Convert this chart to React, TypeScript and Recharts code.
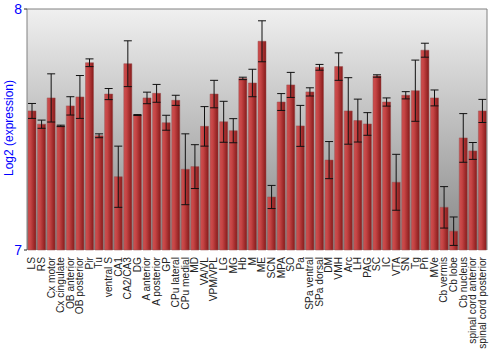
import { BarChart, Bar, XAxis, YAxis, ErrorBar, CartesianGrid, ReferenceLine } from "recharts";

const regions = [
  "LS", "RS", "Cx motor", "Cx cingulate", "OB anterior", "OB posterior", "Pir", "Tu",
  "ventral S", "CA1", "CA2/CA3", "DG", "A anterior", "A posterior", "GP", "CPu lateral",
  "CPu medial", "MD", "VA/VL", "VPM/VPL", "LG", "MG", "Hb", "M", "ME", "SCN", "MPA", "SO",
  "Pa", "SPa ventral", "SPa dorsal", "DM", "VMH", "Arc", "LH", "PAG", "SC", "IC", "VTA",
  "SN", "Tg", "Pn", "MVe", "Cb vermis", "Cb lobe", "Cb nucleus", "spinal cord anterior",
  "spinal cord posterior",
];

const expression = [
  7.577, 7.522, 7.631, 7.515, 7.598, 7.635, 7.777, 7.474,
  7.647, 7.304, 7.773, 7.56, 7.631, 7.65, 7.528, 7.621,
  7.335, 7.346, 7.513, 7.647, 7.532, 7.495, 7.712, 7.693, 7.866, 7.22, 7.614, 7.685,
  7.515, 7.656, 7.758, 7.373, 7.761, 7.577, 7.537, 7.523, 7.722, 7.614, 7.281,
  7.642, 7.661, 7.829, 7.631, 7.177, 7.078, 7.465, 7.411,
  7.577,
];

const stdErr = [
  0.031, 0.017, 0.1, 0.003, 0.038, 0.089, 0.016, 0.008,
  0.023, 0.127, 0.095, 0.002, 0.024, 0.037, 0.031, 0.021,
  0.147, 0.091, 0.082, 0.057, 0.085, 0.05, 0.005, 0.057, 0.085, 0.048, 0.035, 0.052,
  0.085, 0.017, 0.012, 0.077, 0.057, 0.138, 0.089, 0.047, 0.005, 0.017, 0.116,
  0.015, 0.127, 0.029, 0.033, 0.086, 0.059, 0.101, 0.035,
  0.048,
];

const yTicks = [7, 8];

const data = regions.map((name, i) => ({ name, value: expression[i], err: stdErr[i] }));

const RegionTick = (props: any) => {
  const { x, y, payload } = props;
  return (
    <text
      x={x}
      y={y}
      dy="0.35em"
      transform={`rotate(-90, ${x}, ${y})`}
      textAnchor="end"
      fontSize={10.2}
      fontFamily="'Liberation Sans', Arial, sans-serif"
      fill="#222"
    >
      {payload.value}
    </text>
  );
};

const YTitle = () => (
  <text
    x={9}
    y={128}
    transform="rotate(-90, 9, 128)"
    textAnchor="middle"
    dominantBaseline="central"
    fontSize={12}
    fontFamily="'Liberation Sans', Arial, sans-serif"
    fill="#0000ff"
  >
    Log2 (expression)
  </text>
);

export default function App() {
  const tickStyle = { fill: "#0000ff", fontSize: 14, fontFamily: "'Liberation Sans', Arial, sans-serif" };
  return (
    <div style={{ position: "absolute", left: 0, top: 0, width: 500, height: 350, background: "#fff" }}>
      <BarChart
        width={500}
        height={350}
        data={data}
        margin={{ top: 9, right: 0, left: 0, bottom: 0 }}
        barCategoryGap={1}
      >
        <defs>
          <linearGradient id="bg" x1="0" y1="0" x2="0" y2="1">
            <stop offset="0%" stopColor="#f0f0f0" />
            <stop offset="100%" stopColor="#868686" />
          </linearGradient>
          <linearGradient id="barFill" x1="0" y1="0" x2="1" y2="0">
            <stop offset="0%" stopColor="#cf5050" />
            <stop offset="35%" stopColor="#c44343" />
            <stop offset="100%" stopColor="#861a1a" />
          </linearGradient>
        </defs>
        <CartesianGrid horizontal={false} vertical={false} fill="url(#bg)" />
        <XAxis
          dataKey="name"
          interval={0}
          height={100}
          axisLine={false}
          tickLine={false}
          tick={<RegionTick />}
          tickMargin={1}
        />
        <YAxis
          domain={[7, 8]}
          ticks={yTicks}
          width={27}
          tick={tickStyle}
          tickSize={3}
          tickMargin={2}
          axisLine={{ stroke: "#808080" }}
          tickLine={{ stroke: "#222" }}
          label={<YTitle />}
        />
        <YAxis
          yAxisId="r"
          orientation="right"
          domain={[7, 8]}
          ticks={yTicks}
          width={13}
          tick={tickStyle}
          tickSize={3}
          tickMargin={1}
          axisLine={{ stroke: "#808080" }}
          tickLine={{ stroke: "#222" }}
        />
        <ReferenceLine y={8} stroke="#808080" />
        <Bar dataKey="value" fill="url(#barFill)" stroke="#9a5050" strokeOpacity={0.5} isAnimationActive={false}>
          <ErrorBar dataKey="err" width={4} stroke="#111" strokeWidth={1} isAnimationActive={false} />
        </Bar>
      </BarChart>
    </div>
  );
}
